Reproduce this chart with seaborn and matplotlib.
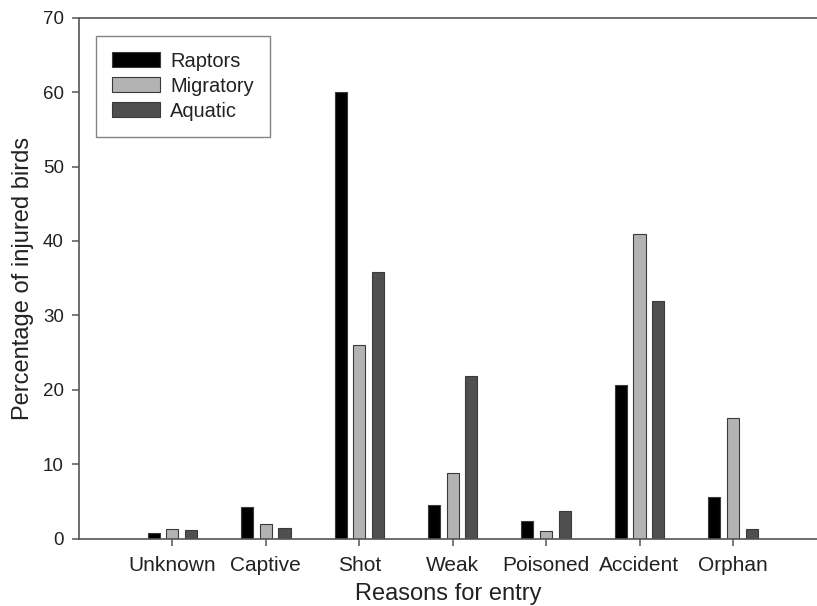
import matplotlib
matplotlib.use("Agg")
import matplotlib.pyplot as plt
import seaborn as sns
import pandas as pd

reasons = ["Unknown", "Captive", "Shot", "Weak", "Poisoned", "Accident", "Orphan"]
raptors = [0.8, 4.3, 60.0, 4.6, 2.4, 20.7, 5.6]
migratory = [1.4, 2.0, 26.0, 8.8, 1.1, 40.9, 16.2]
aquatic = [1.2, 1.5, 35.9, 21.9, 3.8, 31.9, 1.4]
groups = ["Raptors", "Migratory", "Aquatic"]

data = pd.DataFrame({
    "reason": reasons * 3,
    "group": [g for g in groups for _ in reasons],
    "pct": raptors + migratory + aquatic,
})

sns.set_style("ticks")
plt.rcParams["font.family"] = ["Liberation Sans", "DejaVu Sans"]

fig = plt.figure(figsize=(8.17, 6.06), dpi=100)
ax = fig.add_axes([0.0967, 0.1106, 0.9033, 0.8605])

fills = {"Raptors": "#000000", "Migratory": "#b3b3b3", "Aquatic": "#4f4f4f"}
sns.barplot(data=data, x="reason", y="pct", hue="group", order=reasons,
            hue_order=groups, palette=fills, width=0.6, gap=0.35,
            edgecolor="#3a3a3a", linewidth=0.8, ax=ax)

ax.set_xlim(-1.0, 6.9)
ax.set_ylim(0, 70)
ax.set_yticks(range(0, 71, 10))

ax.spines["right"].set_visible(False)
for s in ["left", "bottom", "top"]:
    ax.spines[s].set_color("#555555")
    ax.spines[s].set_linewidth(1.2)
ax.tick_params(direction="out", length=5, width=1.1, color="#555555",
               labelcolor="#222222")
ax.tick_params(axis="y", labelsize=13.5, pad=6)
ax.tick_params(axis="x", labelsize=15, pad=7)

ax.set_xlabel("Reasons for entry", fontsize=17, color="#222222", labelpad=6)
ax.set_ylabel("Percentage of injured birds", fontsize=17, color="#222222", labelpad=6)

leg = ax.legend(loc="upper left", bbox_to_anchor=(0.023, 0.965), fontsize=14.4,
                frameon=True, fancybox=False, handlelength=2.4, handleheight=0.75,
                labelspacing=0.3, borderpad=0.8, handletextpad=0.5,
                borderaxespad=0)
leg.get_frame().set_edgecolor("#666666")
leg.get_frame().set_linewidth(1.0)
for t in leg.get_texts():
    t.set_color("#222222")

fig.savefig("out.png", dpi=100)
